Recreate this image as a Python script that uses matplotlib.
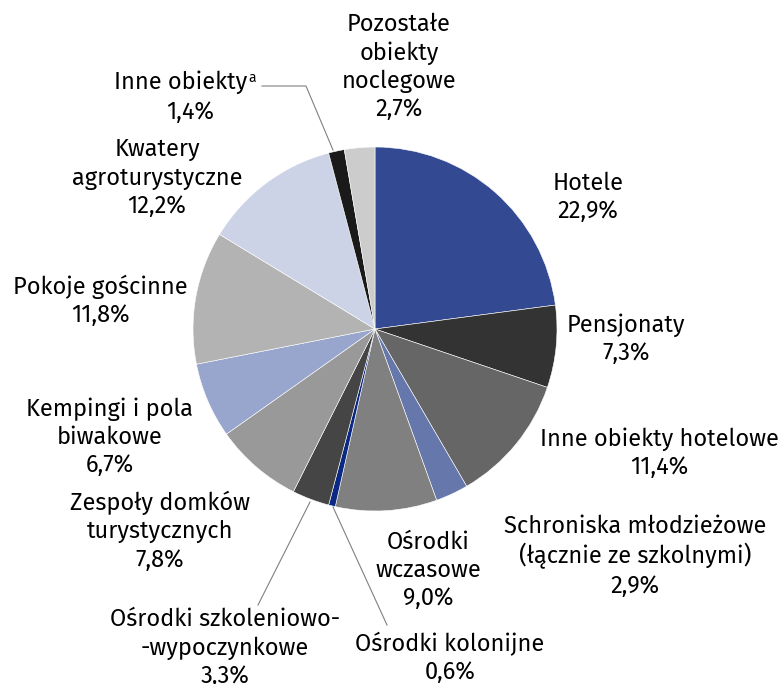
import matplotlib
matplotlib.use("Agg")
import matplotlib.pyplot as plt

plt.rcParams["font.family"] = ["Fira Sans", "Noto Sans", "DejaVu Sans"]

labels = ["Hotele", "Pensjonaty", "Inne obiekty hotelowe",
          "Schroniska młodzieżowe\n(łącznie ze szkolnymi)", "Ośrodki\nwczasowe",
          "Ośrodki kolonijne", "Ośrodki szkoleniowo-\n-wypoczynkowe",
          "Zespoły domków\nturystycznych", "Kempingi i pola\nbiwakowe",
          "Pokoje gościnne", "Kwatery\nagroturystyczne", "Inne obiekty",
          "Pozostałe\nobiekty\nnoclegowe"]
shares = [22.9, 7.3, 11.4, 2.9, 9.0, 0.6, 3.3, 7.8, 6.7, 11.8, 12.2, 1.4, 2.7]
colors = ["#334a93", "#333333", "#666666", "#6677ab", "#808080", "#0b2882",
          "#454545", "#999999", "#98a6cd", "#b3b3b3", "#cdd3e7", "#1a1a1a",
          "#cccccc"]

# label anchor positions (pixels, y from top)
label_pos = [(588, 197), (626, 339), (659, 453), (635, 556), (428, 570),
             (450, 658), (225, 648), (160, 531), (110, 437), (100, 301),
             (157, 178), (190, 97), (399, 67)]

W, H = 782, 684
FS = 17
LS = 1.27
fig = plt.figure(figsize=(W / 100, H / 100), dpi=100)
ax = fig.add_axes([0, 0, 1, 1])
cx, cy, r = 375, H - 329, 182
ax.pie(shares, colors=colors, startangle=90, counterclock=False,
       center=(cx, cy), radius=r,
       wedgeprops=dict(edgecolor="white", linewidth=0.4))
ax.set_xlim(0, W)
ax.set_ylim(0, H)
ax.set_aspect("equal")
ax.axis("off")

for i, (lab, val) in enumerate(zip(labels, shares)):
    x, y = label_pos[i]
    pct = f"{val:.1f}".replace(".", ",") + "%"
    if lab == "Inne obiekty":
        ax.text(247, H - 82, lab, ha="right", va="center", fontsize=FS)
        ax.text(248, H - 78, "a", ha="left", va="center", fontsize=10)
        ax.text(x, H - 112, pct, ha="center", va="center", fontsize=FS)
    else:
        ax.text(x, H - y, lab + "\n" + pct, ha="center", va="center",
                fontsize=FS, linespacing=LS)

# leader lines
ax.plot([262, 306, 333], [H - 86, H - 86, H - 150], color="#808080", lw=0.8)
ax.plot([310, 258], [H - 502, H - 605], color="#808080", lw=0.8)
ax.plot([333, 387], [H - 507, H - 625], color="#808080", lw=0.8)

fig.savefig("out.png", dpi=100)
